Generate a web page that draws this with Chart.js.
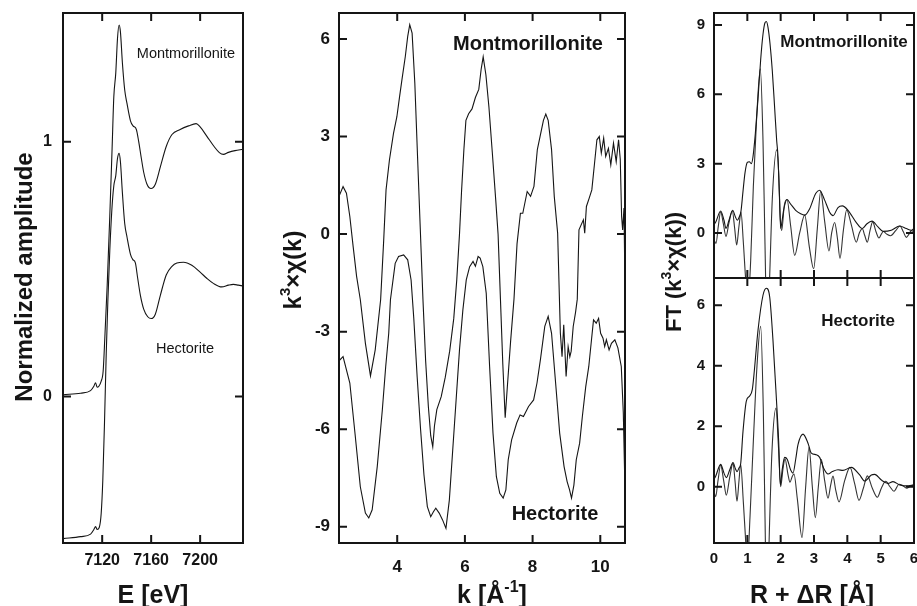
<!DOCTYPE html>
<html lang="en">
<head>
<meta charset="UTF-8" />
<title>XANES, EXAFS and FT – Montmorillonite / Hectorite</title>
<script src="https://cdn.jsdelivr.net/npm/chart.js"></script>
<style>
  body { margin: 0; background: #fff; }
  .stage { position: relative; width: 917px; height: 606px; }
  .stage canvas { position: absolute; left: 0; top: 0; }
</style>
</head>
<body>
<div class="stage">
  <canvas id="xanes" width="917" height="606"></canvas>
  <canvas id="exafs" width="917" height="606"></canvas>
  <canvas id="ftMont" width="917" height="606"></canvas>
  <canvas id="ftHect" width="917" height="606"></canvas>
</div>
<script>
const FONT = "'Liberation Sans', Arial, Helvetica, sans-serif";
const INK = '#151515';

// --- XANES (normalized, hectorite shifted down) ---
const eTicks = [7120, 7160, 7200];
const muTicks = [0, 1];
const montE = [7088.3, 7102.4, 7110.5, 7113.2, 7114.6, 7115.9, 7117.3, 7119.2, 7120.8, 7122.2,
  7124.1, 7126.2, 7128.1, 7129.5, 7131.1, 7132.5, 7133.8, 7134.9, 7136.5, 7138.4,
  7140.3, 7143.1, 7145.2, 7147.9, 7149.8, 7152.0, 7153.9, 7156.6, 7159.9, 7163.4,
  7167.5, 7172.3, 7177.0, 7183.7, 7190.5, 7196.7, 7200.0, 7205.4, 7211.4, 7215.7,
  7219.0, 7223.1, 7228.5, 7234.7];
const montMu = [0.007, 0.013, 0.023, 0.040, 0.054, 0.036, 0.040, 0.060, 0.10, 0.235,
  0.437, 0.706, 0.974, 1.176, 1.270, 1.405, 1.458, 1.431, 1.310, 1.203,
  1.149, 1.082, 1.062, 1.048, 1.001, 0.934, 0.880, 0.833, 0.816, 0.833,
  0.901, 0.981, 1.028, 1.048, 1.062, 1.071, 1.058, 1.022, 0.981, 0.957,
  0.950, 0.958, 0.965, 0.970];
const hectE = [7088.3, 7102.4, 7110.5, 7113.2, 7114.6, 7115.9, 7117.6, 7119.2, 7120.5, 7121.9,
  7123.3, 7124.6, 7126.2, 7127.9, 7129.5, 7131.1, 7132.5, 7133.8, 7134.9, 7136.5,
  7138.4, 7140.3, 7143.1, 7144.9, 7147.1, 7149.0, 7151.2, 7153.9, 7157.2, 7160.1,
  7163.4, 7167.5, 7172.3, 7177.0, 7181.0, 7186.4, 7193.2, 7200.0, 7205.4, 7210.8,
  7217.6, 7223.1, 7227.1, 7231.2, 7234.7];
const hectMu = [-0.558, -0.550, -0.540, -0.522, -0.510, -0.522, -0.514, -0.458, -0.330, -0.101,
  0.168, 0.370, 0.571, 0.733, 0.827, 0.867, 0.934, 0.954, 0.921, 0.800,
  0.679, 0.625, 0.558, 0.538, 0.524, 0.464, 0.397, 0.343, 0.313, 0.306,
  0.323, 0.397, 0.477, 0.511, 0.524, 0.527, 0.515, 0.488, 0.464, 0.444,
  0.430, 0.437, 0.440, 0.437, 0.434];

// --- EXAFS k^3 chi(k) ---
const kTicks = [4, 6, 8, 10];
const chiTicks = [-9, -6, -3, 0, 3, 6];
const montK = [2.28, 2.40, 2.50, 2.60, 2.70, 2.80, 2.91, 3.06, 3.21, 3.35,
  3.51, 3.60, 3.67, 3.77, 3.89, 3.99, 4.07, 4.14, 4.24, 4.31,
  4.37, 4.44, 4.52, 4.60, 4.68, 4.76, 4.84, 4.92, 4.99, 5.05,
  5.10, 5.17, 5.30, 5.42, 5.55, 5.67, 5.76, 5.84, 5.90, 5.97,
  6.03, 6.11, 6.21, 6.31, 6.41, 6.48, 6.54, 6.62, 6.71, 6.81,
  6.91, 6.98, 7.05, 7.12, 7.19, 7.26, 7.35, 7.45, 7.54, 7.64,
  7.71, 7.84, 7.94, 8.04, 8.14, 8.22, 8.32, 8.39, 8.46, 8.56,
  8.64, 8.74, 8.82, 8.87, 8.92, 8.99, 9.05, 9.10, 9.14, 9.20,
  9.27, 9.32, 9.37, 9.50, 9.54, 9.59, 9.67, 9.75, 9.83, 9.90,
  9.97, 10.03, 10.10, 10.16, 10.24, 10.31, 10.39, 10.47, 10.54, 10.59,
  10.63, 10.66, 10.70, 10.73];
const montChi = [1.16, 1.46, 1.26, 0.54, -0.4, -1.3, -2.02, -3.36, -4.36, -3.56,
  -2.02, -0.2, 1.36, 2.28, 3.10, 3.61, 4.23, 4.75, 5.47, 6.08,
  6.44, 6.18, 4.65, 2.4, 0.2, -2.0, -3.9, -5.3, -6.2, -6.54,
  -5.9, -5.4, -5.0, -4.4, -3.6, -2.6, -1.4, 0.0, 1.3, 2.6,
  3.5, 3.7, 3.85, 4.2, 4.45, 5.07, 5.45, 4.9, 3.9, 2.5,
  1.06, 0.0, -2.0, -4.0, -5.65, -4.6, -3.3, -2.0, -0.3, 0.64,
  0.64, 1.31, 1.16, 1.47, 2.6, 3.0, 3.5, 3.69, 3.5, 2.6,
  1.16, 0.03, -3.04, -3.77, -2.79, -4.38, -3.46, -3.77, -3.6, -2.84,
  -2.4, -2.0, 0.13, 0.44, 0.03, 0.85, 1.1, 1.36, 2.18, 2.9,
  3.0, 2.49, 2.95, 2.39, 2.64, 2.13, 2.8, 2.23, 2.9, 2.3,
  0.54, 0.13, 0.80, -1.7];
const hectK = [2.28, 2.40, 2.60, 2.75, 2.91, 3.06, 3.16, 3.26, 3.41, 3.56,
  3.66, 3.75, 3.80, 3.94, 4.04, 4.19, 4.31, 4.41, 4.49, 4.59,
  4.69, 4.79, 4.89, 4.99, 5.07, 5.14, 5.24, 5.34, 5.44, 5.54,
  5.64, 5.74, 5.84, 5.94, 6.04, 6.14, 6.24, 6.31, 6.39, 6.45,
  6.53, 6.63, 6.73, 6.83, 6.93, 7.03, 7.13, 7.21, 7.28, 7.38,
  7.53, 7.63, 7.73, 7.88, 8.03, 8.13, 8.23, 8.36, 8.46, 8.56,
  8.68, 8.80, 8.93, 9.02, 9.09, 9.15, 9.22, 9.29, 9.39, 9.47,
  9.57, 9.66, 9.74, 9.80, 9.88, 9.95, 10.01, 10.08, 10.13, 10.18,
  10.26, 10.33, 10.43, 10.52, 10.62, 10.68, 10.73];
const hectChi = [-3.90, -3.77, -4.58, -6.10, -7.77, -8.58, -8.73, -8.48, -7.15, -5.41,
  -4.07, -3.04, -2.02, -0.90, -0.69, -0.64, -0.79, -1.41, -2.60, -4.40,
  -6.00, -7.40, -8.38, -8.69, -8.54, -8.43, -8.58, -8.79, -9.05, -8.18,
  -6.64, -5.10, -3.56, -2.33, -1.41, -1.00, -0.84, -0.99, -0.69, -0.74,
  -1.00, -1.82, -4.07, -6.12, -7.46, -7.97, -8.12, -7.87, -6.94, -6.33,
  -5.81, -5.56, -5.61, -5.30, -5.10, -4.58, -3.87, -2.84, -2.53, -3.05,
  -4.58, -6.12, -7.15, -7.61, -7.86, -8.12, -7.72, -6.94, -6.43, -5.61,
  -4.69, -4.07, -3.25, -2.64, -2.74, -2.59, -3.05, -3.20, -3.46, -3.25,
  -3.56, -3.36, -3.25, -3.50, -4.07, -5.50, -7.90];

// --- Fourier transforms: magnitude and imaginary part ---
const rTicks = [0, 1, 2, 3, 4, 5, 6];
const ftMontTicks = [0, 3, 6, 9];
const ftHectTicks = [0, 2, 4, 6];
const montR = [0.00, 0.06, 0.20, 0.30, 0.36, 0.45, 0.56, 0.64, 0.70, 0.76,
  0.81, 0.87, 0.93, 1.00, 1.06, 1.12, 1.17, 1.24, 1.32, 1.40,
  1.47, 1.53, 1.57, 1.62, 1.68, 1.75, 1.82, 1.88, 1.92, 1.96,
  2.00, 2.04, 2.09, 2.19, 2.30, 2.45, 2.60, 2.72, 2.87, 3.05,
  3.17, 3.32, 3.47, 3.57, 3.72, 3.85, 4.02, 4.27, 4.45, 4.59,
  4.74, 4.92, 5.07, 5.32, 5.57, 5.77, 5.92, 6.00];
const montMag = [0.35, 0.50, 0.95, 0.55, 0.20, 0.55, 0.98, 0.70, 0.55, 0.70,
  0.95, 1.8, 2.6, 3.05, 3.08, 3.0, 3.3, 4.3, 5.8, 7.5,
  8.6, 9.1, 9.15, 8.9, 8.2, 7.0, 5.4, 4.0, 3.3, 1.7,
  0.2, 0.5, 1.0, 1.45, 1.25, 0.98, 0.83, 0.77, 1.05, 1.71,
  1.85, 1.42, 0.9, 0.75, 1.10, 1.17, 0.98, 0.45, 0.19, 0.40,
  0.51, 0.26, 0.07, 0.12, 0.30, 0.19, 0.12, 0.19];
const montRi = [0.00, 0.06, 0.13, 0.20, 0.28, 0.36, 0.45, 0.55, 0.62, 0.68,
  0.75, 0.81, 0.88, 0.95, 1.02, 1.10, 1.18, 1.28, 1.39, 1.47,
  1.53, 1.60, 1.67, 1.75, 1.88, 1.94, 1.99, 2.03, 2.11, 2.19,
  2.30, 2.42, 2.57, 2.72, 2.86, 2.99, 3.10, 3.20, 3.32, 3.45,
  3.53, 3.62, 3.70, 3.78, 3.88, 3.98, 4.12, 4.27, 4.36, 4.45,
  4.52, 4.60, 4.68, 4.76, 4.86, 4.95, 5.02, 5.08, 5.18, 5.30,
  5.45, 5.58, 5.68, 5.77, 5.85, 5.92, 6.00];
const montIm = [-0.30, -0.45, 0.30, 0.92, 0.40, -0.15, 0.45, 0.95, 0.20, -0.52,
  0.30, 0.90, -0.40, -2.0, -3.0, -1.2, 2.0, 5.0, 7.1, 4.0,
  -0.5, -5.0, -1.9, 1.5, 3.6, 2.6, 0.6, 0.1, 1.2, 1.45,
  0.3, -0.97, 0.0, 0.77, -0.6, -1.55, 0.2, 1.80, 0.5, -0.78,
  0.0, 0.45, -0.2, -1.10, 0.1, 1.00, 0.35, -0.40, 0.0, 0.18,
  -0.1, -0.40, 0.1, 0.48, 0.05, -0.22, -0.05, 0.06, -0.05, -0.12,
  0.1, 0.30, 0.05, -0.19, -0.05, 0.10, 0.05];
const hectR = [0.00, 0.05, 0.20, 0.30, 0.37, 0.47, 0.57, 0.64, 0.69, 0.75,
  0.80, 0.87, 0.97, 1.07, 1.15, 1.20, 1.32, 1.47, 1.57, 1.67,
  1.77, 1.87, 1.94, 1.99, 2.05, 2.12, 2.20, 2.30, 2.37, 2.45,
  2.52, 2.67, 2.82, 2.92, 3.07, 3.17, 3.29, 3.42, 3.55, 3.72,
  3.87, 4.12, 4.37, 4.52, 4.72, 4.82, 5.02, 5.22, 5.37, 5.57,
  5.77, 6.00];
const hectMag = [0.25, 0.35, 0.74, 0.45, 0.30, 0.55, 0.80, 0.60, 0.50, 0.62,
  0.76, 1.83, 2.83, 3.0, 3.22, 3.72, 5.17, 6.33, 6.56, 6.28,
  4.83, 2.94, 1.5, 0.06, 0.6, 0.97, 0.9, 0.55, 0.45, 0.9,
  1.39, 1.74, 1.44, 1.11, 1.06, 0.97, 0.61, 0.42, 0.50, 0.56,
  0.54, 0.64, 0.39, 0.19, 0.39, 0.41, 0.22, 0.11, 0.17, 0.06,
  0.03, 0.06];
const hectRi = [0.00, 0.05, 0.12, 0.20, 0.29, 0.37, 0.47, 0.57, 0.63, 0.69,
  0.75, 0.80, 0.88, 0.94, 1.00, 1.08, 1.18, 1.29, 1.40, 1.48,
  1.53, 1.59, 1.66, 1.74, 1.86, 1.93, 2.00, 2.07, 2.13, 2.22,
  2.28, 2.35, 2.40, 2.50, 2.64, 2.75, 2.85, 2.95, 3.04, 3.13,
  3.22, 3.32, 3.42, 3.50, 3.57, 3.65, 3.75, 3.92, 4.08, 4.22,
  4.35, 4.48, 4.60, 4.75, 4.90, 5.02, 5.15, 5.28, 5.40, 5.55,
  5.65, 5.78, 5.90, 6.00];
const hectIm = [-0.15, -0.33, 0.2, 0.72, 0.2, -0.28, 0.3, 0.78, 0.2, -0.48,
  0.2, 0.74, -0.5, -1.6, -2.6, -1.0, 1.5, 4.0, 5.3, 2.5,
  -1.0, -4.5, -1.5, 1.2, 2.6, 1.4, 0.0, 0.6, 0.92, 0.4,
  0.15, 0.35, 0.42, -0.4, -1.68, 0.0, 1.30, 0.0, -1.02, 0.0,
  0.90, 0.2, -0.38, 0.05, 0.35, -0.1, -0.50, 0.2, 0.64, 0.1,
  -0.45, -0.05, 0.36, -0.05, -0.35, -0.05, 0.18, 0.0, -0.15, 0.08,
  0.05, -0.05, 0.03, 0.05];

function trace(xs, ys, color, smooth) {
  return {
    data: xs.map((x, i) => ({ x: x, y: ys[i] })),
    borderColor: color,
    borderWidth: 1.1,
    pointRadius: 0,
    fill: false,
    tension: 0,
    cubicInterpolationMode: smooth ? 'monotone' : 'default'
  };
}

// frame with inward ticks on all four sides
const frameTicks = {
  id: 'frameTicks',
  afterDatasetsDraw(chart) {
    const ctx = chart.ctx, a = chart.chartArea;
    const sx = chart.scales.x, sy = chart.scales.y;
    const len = 8;
    ctx.save();
    ctx.strokeStyle = INK;
    ctx.lineWidth = 2;
    ctx.beginPath();
    sx.ticks.forEach(t => {
      const p = sx.getPixelForValue(t.value);
      ctx.moveTo(p, a.bottom); ctx.lineTo(p, a.bottom - len);
      ctx.moveTo(p, a.top); ctx.lineTo(p, a.top + len);
    });
    sy.ticks.forEach(t => {
      const p = sy.getPixelForValue(t.value);
      ctx.moveTo(a.left, p); ctx.lineTo(a.left + len, p);
      ctx.moveTo(a.right, p); ctx.lineTo(a.right - len, p);
    });
    ctx.stroke();
    ctx.strokeRect(a.left, a.top, a.right - a.left, a.bottom - a.top);
    ctx.restore();
  }
};

// axis titles and sample names, with optional superscript parts
function textLayer(items) {
  return {
    id: 'textLayer',
    afterDraw(chart) {
      const ctx = chart.ctx;
      items.forEach(it => {
        const size = it.size;
        const weight = it.weight || 'bold';
        const parts = it.parts || [{ t: it.text }];
        const fontOf = p => weight + ' ' + (p.sup ? Math.round(size * 0.62) : size) + 'px ' + FONT;
        ctx.save();
        ctx.translate(it.x, it.y);
        if (it.rotate) ctx.rotate(-Math.PI / 2);
        ctx.fillStyle = INK;
        ctx.textAlign = 'left';
        ctx.textBaseline = 'alphabetic';
        let w = 0;
        parts.forEach(p => { ctx.font = fontOf(p); p.w = ctx.measureText(p.t).width; w += p.w; });
        let cx = -w / 2;
        parts.forEach(p => {
          ctx.font = fontOf(p);
          ctx.fillText(p.t, cx, p.sup ? -size * 0.08 : size * 0.36);
          cx += p.w;
        });
        ctx.restore();
      });
    }
  };
}

function panel(id, o) {
  const yW = 60;
  const xH = o.xLabels ? 40 : 0;
  return new Chart(document.getElementById(id), {
    type: 'line',
    data: { datasets: o.datasets },
    options: {
      responsive: false,
      animation: false,
      events: [],
      layout: { padding: { left: o.box[0] - yW, top: o.box[1], right: 917 - o.box[2], bottom: 606 - o.box[3] - xH } },
      scales: {
        x: {
          type: 'linear', min: o.x[0], max: o.x[1],
          afterBuildTicks: s => { s.ticks = o.xTicks.map(v => ({ value: v })); },
          afterFit: s => { s.height = xH; s.paddingLeft = 0; s.paddingRight = 0; },
          grid: { display: false, drawTicks: false },
          border: { display: false },
          ticks: {
            display: !!o.xLabels, autoSkip: false, maxRotation: 0, padding: o.xPad,
            color: INK, font: { family: FONT, weight: 'bold', size: o.xFont },
            callback: v => String(v)
          }
        },
        y: {
          type: 'linear', min: o.y[0], max: o.y[1],
          afterBuildTicks: s => { s.ticks = o.yTicks.map(v => ({ value: v })); },
          afterFit: s => { s.width = yW; s.paddingTop = 0; s.paddingBottom = 0; },
          grid: { display: false, drawTicks: false },
          border: { display: false },
          ticks: {
            autoSkip: false, padding: o.yPad,
            color: INK, font: { family: FONT, weight: 'bold', size: o.yFont },
            callback: v => String(v)
          }
        }
      },
      plugins: { legend: { display: false }, tooltip: { enabled: false } }
    },
    plugins: [frameTicks, textLayer(o.text)]
  });
}

panel('xanes', {
  box: [63, 13, 243, 543],
  x: [7088, 7235], y: [-0.575, 1.505],
  xTicks: eTicks, yTicks: muTicks,
  xLabels: true, xFont: 16, xPad: 8, yFont: 16, yPad: 11,
  datasets: [trace(montE, montMu, INK, true), trace(hectE, hectMu, INK, true)],
  text: [
    { text: 'Montmorillonite', x: 186, y: 53, size: 14.5, weight: 'normal' },
    { text: 'Hectorite', x: 185, y: 348, size: 14.5, weight: 'normal' },
    { text: 'E [eV]', x: 153, y: 594, size: 25 },
    { text: 'Normalized amplitude', x: 23, y: 277, size: 24, rotate: true }
  ]
});

panel('exafs', {
  box: [339, 13, 625, 543],
  x: [2.28, 10.73], y: [-9.5, 6.8],
  xTicks: kTicks, yTicks: chiTicks,
  xLabels: true, xFont: 17, xPad: 14, yFont: 17, yPad: 9,
  datasets: [trace(montK, montChi, INK, false), trace(hectK, hectChi, INK, false)],
  text: [
    { text: 'Montmorillonite', x: 528, y: 43, size: 20 },
    { text: 'Hectorite', x: 555, y: 513, size: 20 },
    { parts: [{ t: 'k [Å' }, { t: '-1', sup: true }, { t: ']' }], x: 492, y: 594, size: 25 },
    { parts: [{ t: 'k' }, { t: '3', sup: true }, { t: '×χ(k)' }], x: 292, y: 270, size: 24, rotate: true }
  ]
});

panel('ftMont', {
  box: [714, 13, 914, 278],
  x: [0, 6], y: [-1.95, 9.52],
  xTicks: rTicks, yTicks: ftMontTicks,
  xLabels: false, yFont: 15, yPad: 9,
  datasets: [trace(montR, montMag, INK, true), trace(montRi, montIm, '#333', true)],
  text: [
    { text: 'Montmorillonite', x: 844, y: 41, size: 17 }
  ]
});

panel('ftHect', {
  box: [714, 278, 914, 543],
  x: [0, 6], y: [-1.86, 6.9],
  xTicks: rTicks, yTicks: ftHectTicks,
  xLabels: true, xFont: 15, xPad: 7, yFont: 15, yPad: 9,
  datasets: [trace(hectR, hectMag, INK, true), trace(hectRi, hectIm, '#333', true)],
  text: [
    { text: 'Hectorite', x: 858, y: 320, size: 17 },
    { text: 'R + ΔR [Å]', x: 812, y: 594, size: 25 },
    { parts: [{ t: 'FT (k' }, { t: '3', sup: true }, { t: '×χ(k))' }], x: 673, y: 272, size: 22, rotate: true }
  ]
});
</script>
</body>
</html>
